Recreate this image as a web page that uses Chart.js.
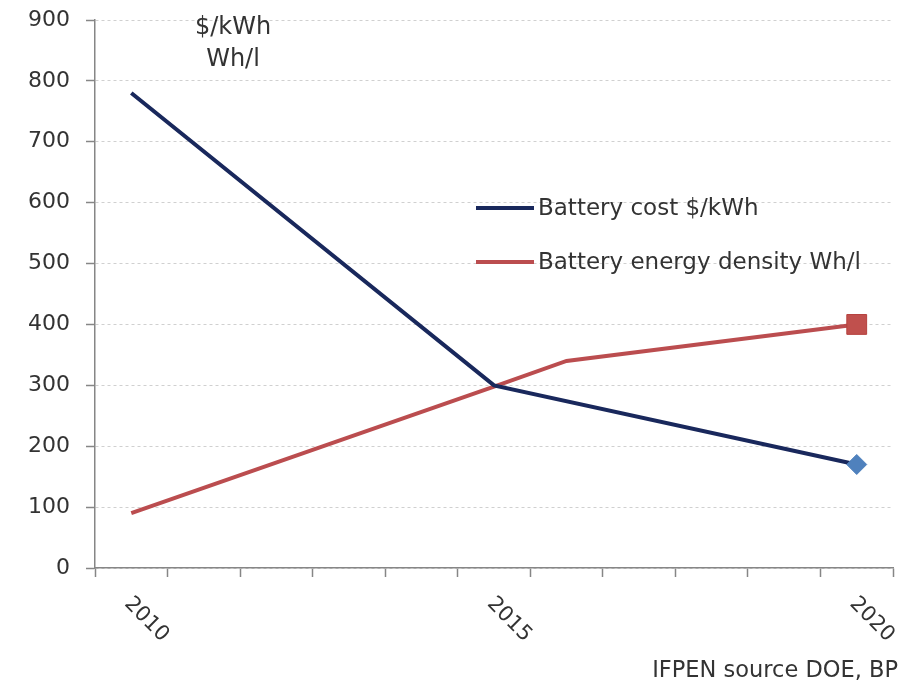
<!DOCTYPE html>
<html>
<head>
<meta charset="utf-8">
<script src="https://cdn.jsdelivr.net/npm/chart.js@4/dist/chart.umd.min.js"></script>
<style>
  html, body { margin: 0; padding: 0; background: #fff; }
  #wrap { width: 912px; height: 681px; }
</style>
</head>
<body>
<div id="wrap"><canvas id="batteryChart"></canvas></div>
<script>
// data
var years = ['2010','2011','2012','2013','2014','2015','2016','2017','2018','2019','2020'];
var shownYears = ['2010','2015','2020'];
var costValues = [780, null, null, null, null, 300, null, null, null, null, 170];
var densityValues = [90, null, null, null, null, 298, 340, null, null, null, 400];
var seriesNames = ['Battery cost $/kWh', 'Battery energy density Wh/l'];
var unitLines = ['$/kWh', 'Wh/l'];
var sourceText = 'IFPEN source DOE, BP';

var costColor = '#19285c';
var densityColor = '#bb4d4f';
var txtColor = '#333333';

function lastOnly(arr, r) {
  return arr.map(function (v, i) { return i === arr.length - 1 ? r : 0; });
}

var extraText = {
  id: 'extraText',
  afterDraw: function (chart) {
    var ctx = chart.ctx;
    var x = chart.scales.x;
    var area = chart.chartArea;
    ctx.save();

    // unit header
    ctx.fillStyle = txtColor;
    ctx.font = '24px "DejaVu Sans"';
    ctx.textAlign = 'center';
    ctx.textBaseline = 'alphabetic';
    ctx.fillText(unitLines[0], 233, 34);
    ctx.fillText(unitLines[1], 233, 66);

    // legend inside the plot
    var legY = [208, 262];
    var legCol = [costColor, densityColor];
    ctx.font = '23px "DejaVu Sans"';
    ctx.textAlign = 'left';
    ctx.textBaseline = 'middle';
    for (var i = 0; i < seriesNames.length; i++) {
      ctx.strokeStyle = legCol[i];
      ctx.lineWidth = 4;
      ctx.beginPath();
      ctx.moveTo(476, legY[i]);
      ctx.lineTo(534, legY[i]);
      ctx.stroke();
      ctx.fillStyle = txtColor;
      ctx.fillText(seriesNames[i], 538, legY[i] + 1);
    }

    // rotated year labels
    ctx.font = '21px "DejaVu Sans"';
    ctx.textBaseline = 'alphabetic';
    shownYears.forEach(function (y) {
      var px = x.getPixelForValue(years.indexOf(y));
      ctx.save();
      ctx.translate(px + 3, area.bottom + 26);
      ctx.rotate(Math.PI / 4);
      ctx.fillText(y, 0, 15);
      ctx.restore();
    });

    // source
    ctx.font = '22.5px "DejaVu Sans"';
    ctx.textAlign = 'right';
    ctx.fillText(sourceText, 898, 677);
    ctx.restore();
  }
};

new Chart(document.getElementById('batteryChart').getContext('2d'), {
  type: 'line',
  data: {
    labels: years,
    datasets: [{
      label: seriesNames[0],
      data: costValues,
      borderColor: costColor,
      borderWidth: 4,
      spanGaps: true,
      tension: 0,
      pointStyle: 'rectRot',
      pointRadius: lastOnly(costValues, 10),
      pointBackgroundColor: '#4f81bd',
      pointBorderColor: '#4f81bd',
      pointBorderWidth: 1
    }, {
      label: seriesNames[1],
      data: densityValues,
      borderColor: densityColor,
      borderWidth: 4,
      spanGaps: true,
      tension: 0,
      pointStyle: 'rect',
      pointRadius: lastOnly(densityValues, 14),
      pointBackgroundColor: '#c0504d',
      pointBorderColor: '#b5403d',
      pointBorderWidth: 1
    }]
  },
  options: {
    responsive: true,
    maintainAspectRatio: false,
    animation: false,
    layout: { padding: { top: 20, right: 19, left: 0, bottom: 0 } },
    plugins: {
      legend: { display: false },
      tooltip: { enabled: false }
    },
    scales: {
      x: {
        offset: true,
        grid: {
          offset: true,
          drawOnChartArea: false,
          drawTicks: true,
          tickLength: 9,
          tickColor: '#868686',
          tickWidth: 1.5
        },
        border: { color: '#868686', width: 1.5 },
        ticks: { display: false },
        afterFit: function (s) { s.height = 113; s.paddingLeft = 0; s.paddingRight = 0; }
      },
      y: {
        min: 0,
        max: 900,
        ticks: {
          stepSize: 100,
          color: '#333333',
          font: { family: 'DejaVu Sans', size: 22 },
          padding: 16
        },
        grid: {
          color: '#d0d0d0',
          lineWidth: 1,
          tickLength: 9,
          tickColor: '#868686',
          tickWidth: 1.5
        },
        border: { color: '#868686', width: 1.5, dash: [3, 3] },
        afterFit: function (s) { s.width = 95; s.paddingTop = 0; s.paddingBottom = 0; }
      }
    }
  },
  plugins: [extraText]
});
</script>
</body>
</html>
